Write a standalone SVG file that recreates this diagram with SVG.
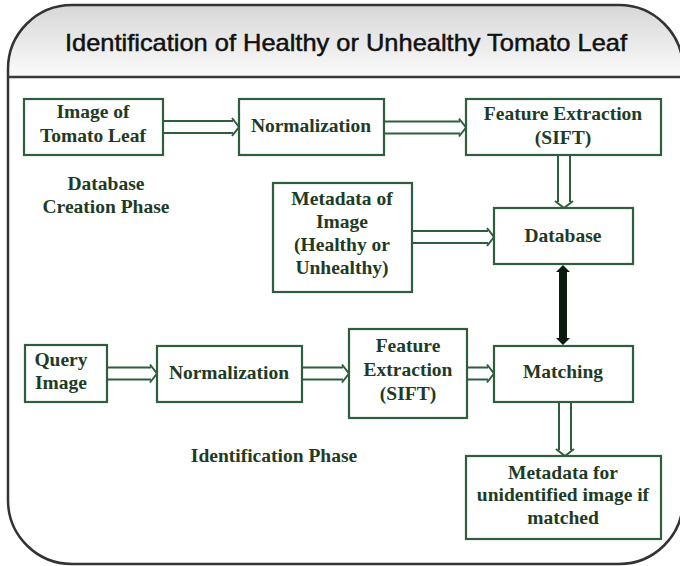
<svg xmlns="http://www.w3.org/2000/svg" width="680" height="566" viewBox="0 0 680 566">
  <defs>
    <linearGradient id="headFill" x1="0" y1="0" x2="0" y2="1">
      <stop offset="0" stop-color="#d4d4d4"/>
      <stop offset="1" stop-color="#fbfbfb"/>
    </linearGradient>
    <clipPath id="frameClip">
      <path d="M 8,69 A 64 64 0 0 1 72,5 H 619 A 64 64 0 0 1 683,69 V 500 A 64 64 0 0 1 619,564 H 72 A 64 64 0 0 1 8,500 Z"/>
    </clipPath>
    <style>
      .box { fill: #ffffff; stroke: #2e5e3e; stroke-width: 2.2; }
      .lbl { font-family: "Liberation Serif", "Times New Roman", serif; font-size: 19.5px; font-weight: bold; fill: #1e3b25; text-anchor: middle; }
      .dbl { fill: none; stroke: #2e5e3e; stroke-width: 2; stroke-linejoin: miter; }
      .title { font-family: "Liberation Sans", Arial, sans-serif; font-size: 24px; fill: #111111; stroke: #111111; stroke-width: 0.5; text-anchor: middle; }
    </style>
  </defs>

  <!-- outer frame with shaded header band -->
  <g id="frame">
    <rect x="0" y="0" width="690" height="77" fill="url(#headFill)" clip-path="url(#frameClip)"/>
    <path d="M 8,69 A 64 64 0 0 1 72,5 H 619 A 64 64 0 0 1 683,69 V 500 A 64 64 0 0 1 619,564 H 72 A 64 64 0 0 1 8,500 Z" fill="none" stroke="#333333" stroke-width="2.5"/>
    <line x1="8" y1="77" x2="683" y2="77" stroke="#3a3a3a" stroke-width="2.5"/>
    <text class="title" x="346" y="51" textLength="562" lengthAdjust="spacingAndGlyphs">Identification of Healthy or Unhealthy Tomato Leaf</text>
  </g>

  <!-- connectors -->
  <g id="connectors">
    <!-- hollow double-line arrows, horizontal -->
    <path class="dbl" d="M 163,121 H 233 M 163,133 H 233 M 232,118 L 239,127 L 232,136"/>
    <path class="dbl" d="M 384,121.5 H 460 M 384,133.5 H 460 M 459,118.5 L 466,127.5 L 459,136.5"/>
    <path class="dbl" d="M 412,231 H 488 M 412,243 H 488 M 487,228 L 494,237 L 487,246"/>
    <path class="dbl" d="M 107,367.5 H 151 M 107,379.5 H 151 M 150,364.5 L 157,373.5 L 150,382.5"/>
    <path class="dbl" d="M 302,367.5 H 343 M 302,379.5 H 343 M 342,364.5 L 349,373.5 L 342,382.5"/>
    <path class="dbl" d="M 467,367.5 H 488 M 467,379.5 H 488 M 487,364.5 L 494,373.5 L 487,382.5"/>
    <!-- hollow double-line arrows, vertical -->
    <path class="dbl" d="M 558,155 V 202 M 570,155 V 202 M 555,201 L 564,208 L 573,201"/>
    <path class="dbl" d="M 559,402 V 450 M 571,402 V 450 M 556,449 L 565,456 L 574,449"/>
    <!-- solid two-way link between Database and Matching -->
    <path d="M 563,265 L 570,272 L 567,272 L 567,338 L 570,338 L 563,345 L 556,338 L 559,338 L 559,272 L 556,272 Z" fill="#0b1a0e"/>
  </g>

  <!-- database creation phase -->
  <g id="image-of-tomato-leaf">
    <rect class="box" x="24" y="99" width="139" height="56"/>
    <text class="lbl" x="93" y="118">Image of</text>
    <text class="lbl" x="93" y="142">Tomato Leaf</text>
  </g>
  <g id="normalization-1">
    <rect class="box" x="239" y="99" width="145" height="56"/>
    <text class="lbl" x="311" y="132">Normalization</text>
  </g>
  <g id="feature-extraction-1">
    <rect class="box" x="466" y="99" width="195" height="56"/>
    <text class="lbl" x="563" y="120">Feature Extraction</text>
    <text class="lbl" x="563" y="144">(SIFT)</text>
  </g>
  <g id="database-creation-label">
    <text class="lbl" x="106" y="190">Database</text>
    <text class="lbl" x="106" y="213">Creation Phase</text>
  </g>
  <g id="image-metadata">
    <rect class="box" x="273" y="183" width="139" height="109"/>
    <text class="lbl" x="342" y="205">Metadata of</text>
    <text class="lbl" x="342" y="228">Image</text>
    <text class="lbl" x="342" y="251">(Healthy or</text>
    <text class="lbl" x="342" y="274">Unhealthy)</text>
  </g>
  <g id="database">
    <rect class="box" x="494" y="208" width="139" height="56"/>
    <text class="lbl" x="563" y="242">Database</text>
  </g>

  <!-- identification phase -->
  <g id="query-image">
    <rect class="box" x="25" y="345" width="82" height="57"/>
    <text class="lbl" x="61" y="366">Query</text>
    <text class="lbl" x="61" y="389">Image</text>
  </g>
  <g id="normalization-2">
    <rect class="box" x="157" y="346" width="145" height="56"/>
    <text class="lbl" x="229" y="379">Normalization</text>
  </g>
  <g id="feature-extraction-2">
    <rect class="box" x="349" y="329" width="118" height="89"/>
    <text class="lbl" x="408" y="352">Feature</text>
    <text class="lbl" x="408" y="376">Extraction</text>
    <text class="lbl" x="408" y="400">(SIFT)</text>
  </g>
  <g id="matching">
    <rect class="box" x="494" y="346" width="139" height="56"/>
    <text class="lbl" x="563" y="378">Matching</text>
  </g>
  <g id="identification-label">
    <text class="lbl" x="274" y="462">Identification Phase</text>
  </g>
  <g id="result-metadata">
    <rect class="box" x="466" y="456" width="195" height="83"/>
    <text class="lbl" x="563" y="479">Metadata for</text>
    <text class="lbl" x="563" y="501">unidentified image if</text>
    <text class="lbl" x="563" y="524">matched</text>
  </g>
</svg>
